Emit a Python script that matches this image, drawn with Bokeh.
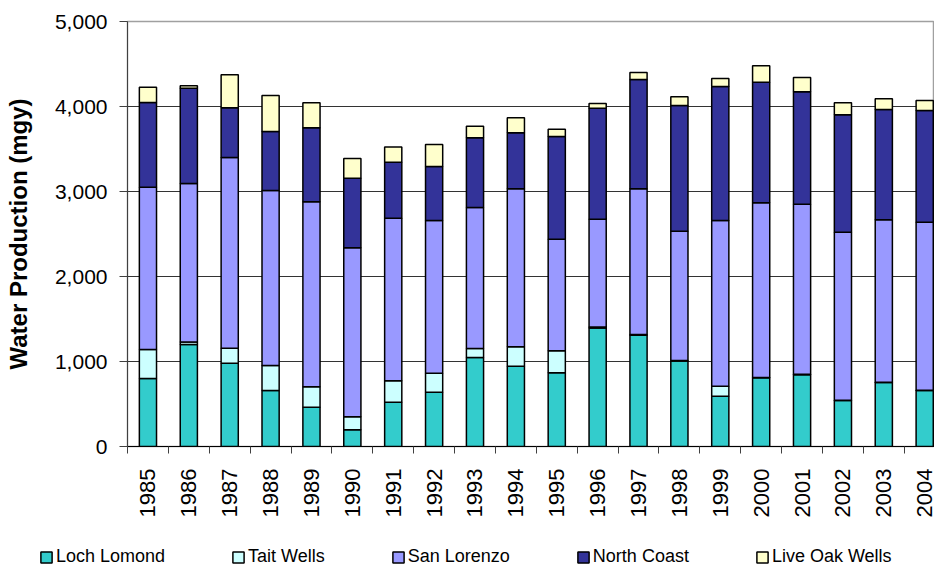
import math

from bokeh.embed import file_html
from bokeh.models import (ColumnDataSource, FixedTicker, Legend, LegendItem,
                          NumeralTickFormatter, Range1d)
from bokeh.plotting import figure
from bokeh.resources import INLINE

# Annual water production by source (million gallons per year)
years = [str(y) for y in range(1985, 2005)]
loch_lomond = [800, 1200, 980, 659, 463, 196, 522, 639, 1047, 945,
               867, 1395, 1310, 1005, 592, 810, 845, 540, 752, 658]
tait_wells = [340, 30, 177, 294, 239, 153, 251, 224, 106, 228,
              259, 10, 8, 7, 118, 3, 6, 5, 5, 5]
san_lorenzo = [1910, 1864, 2243, 2059, 2176, 1988, 1913, 1796, 1659, 1858,
               1313, 1270, 1713, 1521, 1949, 2054, 2000, 1977, 1910, 1976]
north_coast = [996, 1121, 584, 694, 871, 820, 659, 635, 819, 659,
               1208, 1305, 1287, 1479, 1576, 1419, 1322, 1380, 1298, 1314]
live_oak_wells = [180, 28, 389, 423, 294, 231, 180, 259, 138, 177,
                  86, 55, 82, 102, 94, 192, 168, 141, 125, 118]

series_names = ["Loch Lomond", "Tait Wells", "San Lorenzo", "North Coast", "Live Oak Wells"]
series_keys = ["loch", "tait", "slr", "nc", "lo"]
series_colors = ["#33CCCC", "#CCFFFF", "#9999FF", "#333399", "#FFFFCC"]
y_ticks = [0, 1000, 2000, 3000, 4000, 5000]

xs = list(range(len(years)))
source = ColumnDataSource(dict(
    x=xs,
    loch=loch_lomond,
    tait=tait_wells,
    slr=san_lorenzo,
    nc=north_coast,
    lo=live_oak_wells,
))

FONT = "Liberation Sans"
BAR_STYLE = dict(width=0.42, fill_color=series_colors, line_color="black", line_width=1.5)

p = figure(
    width=934, height=530,
    x_range=Range1d(-0.5, 19.24), y_range=Range1d(0, 5000),
    output_backend="svg", toolbar_location=None,
    min_border_left=127, min_border_right=0,
    min_border_top=21, min_border_bottom=84,
    background_fill_color="white", border_fill_color="white",
)
p.outline_line_color = "#a0a0a0"
p.outline_line_width = 1.5

bars = p.vbar_stack(series_keys, x="x", source=source, **BAR_STYLE)

# Y axis
p.yaxis.ticker = FixedTicker(ticks=y_ticks)
p.yaxis.formatter = NumeralTickFormatter(format="0,0")
p.yaxis.axis_line_color = "#404040"
p.yaxis.major_tick_out = 8
p.yaxis.major_tick_in = 0
p.yaxis.major_tick_line_color = "#404040"
p.yaxis.minor_tick_line_color = None
p.yaxis.major_label_standoff = 12
p.yaxis.major_label_text_font = FONT
p.yaxis.major_label_text_font_size = "21px"
p.yaxis.major_label_text_color = "black"
p.yaxis.axis_label = "Water Production (mgy)"
p.yaxis.axis_label_text_font = FONT
p.yaxis.axis_label_text_font_style = "bold"
p.yaxis.axis_label_text_font_size = "24px"
p.yaxis.axis_label_text_color = "black"
p.yaxis.axis_label_standoff = 20

# X axis: labels at category centres, tick marks between categories
p.xaxis.ticker = FixedTicker(ticks=xs, minor_ticks=[i - 0.5 for i in range(len(years) + 1)])
p.xaxis.major_label_overrides = {i: y for i, y in zip(xs, years)}
p.xaxis.major_label_orientation = math.pi / 2
p.xaxis.major_tick_out = 0
p.xaxis.major_tick_in = 0
p.xaxis.major_tick_line_color = None
p.xaxis.minor_tick_out = 7
p.xaxis.minor_tick_in = 0
p.xaxis.minor_tick_line_color = "#404040"
p.xaxis.axis_line_color = "black"
p.xaxis.major_label_standoff = 15
p.xaxis.major_label_text_font = FONT
p.xaxis.major_label_text_font_size = "22px"
p.xaxis.major_label_text_color = "black"

# Grid
p.xgrid.grid_line_color = None
p.ygrid.ticker = FixedTicker(ticks=[1000, 2000, 3000, 4000])
p.ygrid.grid_line_color = "#333333"
p.ygrid.grid_line_width = 1

# Legend strip under the chart. A hidden copy of the stack gives the legend
# swatches the bar styling; the inactive overlay is made fully transparent.
key = figure(
    width=934, height=37,
    x_range=Range1d(-0.5, 19.5), y_range=Range1d(0, 5000),
    output_backend="svg", toolbar_location=None,
    min_border=0, min_border_left=0, min_border_right=0,
    min_border_top=0, min_border_bottom=0,
    background_fill_color="white", border_fill_color="white",
)
key.axis.visible = False
key.grid.visible = False
key.outline_line_color = None
swatches = key.vbar_stack(series_keys, x="x", source=source, **BAR_STYLE)
for r in swatches:
    r.visible = False

items = [LegendItem(label=name, renderers=[r]) for name, r in zip(series_names, swatches)]
legend = Legend(
    items=items, location=(39, 0), orientation="horizontal",
    spacing=66, padding=0, margin=0, glyph_width=14, glyph_height=14,
    label_standoff=3, label_height=20,
    label_text_font=FONT, label_text_font_size="18px", label_text_color="black",
    border_line_color=None, background_fill_alpha=0,
    inactive_fill_alpha=0,
)
key.add_layout(legend, "center")

open("out.html", "w").write(file_html([p, key], INLINE))
